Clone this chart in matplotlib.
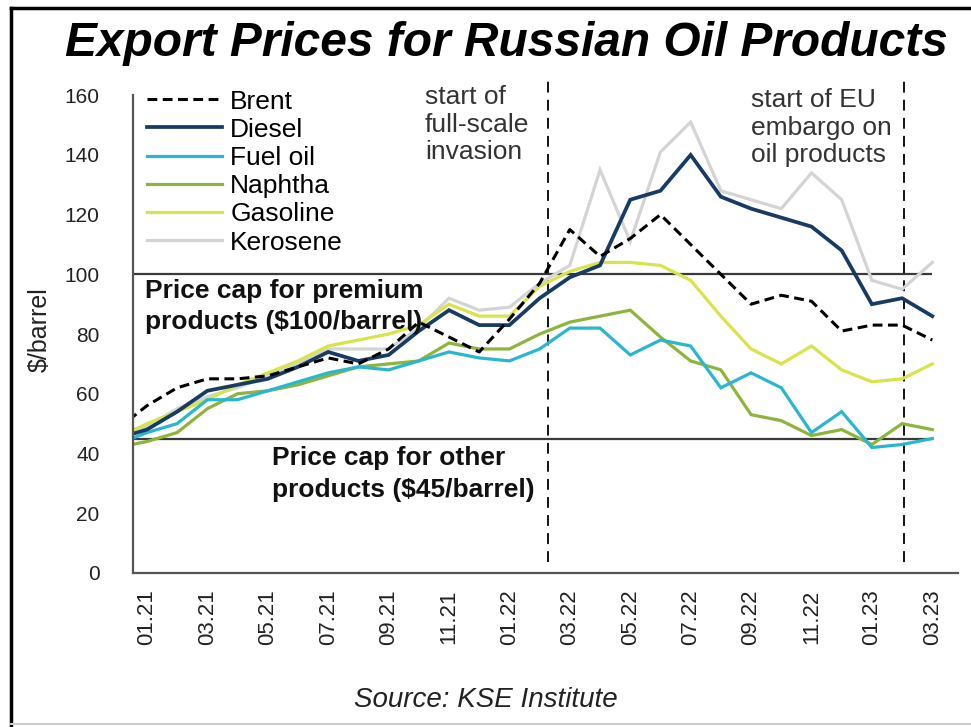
import matplotlib
matplotlib.use("Agg")
import matplotlib.pyplot as plt
from matplotlib.lines import Line2D
import numpy as np

plt.rcParams['font.family'] = ['Liberation Sans', 'DejaVu Sans']

# monthly export prices, $/barrel (first entry = Dec 2020, runs off the axis edge)
months = ['12.20',
          '01.21', '02.21', '03.21', '04.21', '05.21', '06.21', '07.21', '08.21', '09.21',
          '10.21', '11.21', '12.21', '01.22', '02.22', '03.22', '04.22', '05.22', '06.22',
          '07.22', '08.22', '09.22', '10.22', '11.22', '12.22', '01.23', '02.23', '03.23']

brent = [48, 56, 62, 65, 65, 66, 69, 72, 70, 75, 84, 79, 74, 85, 97, 115, 106, 112,
         120, 110, 100, 90, 93, 91, 81, 83, 83, 78]
diesel = [45, 48, 54, 61, 63, 65, 69, 74, 71, 73, 81, 88, 83, 83, 92, 99, 103, 125,
          128, 140, 126, 122, 119, 116, 108, 90, 92, 86]
fuel_oil = [43, 47, 50, 58, 58, 61, 64, 67, 69, 68, 71, 74, 72, 71, 75, 82, 82, 73,
            78, 76, 62, 67, 62, 47, 54, 42, 43, 45]
naphtha = [42, 44, 47, 55, 60, 61, 63, 66, 69, 70, 71, 77, 75, 75, 80, 84, 86, 88,
           79, 71, 68, 53, 51, 46, 48, 43, 50, 48]
gasoline = [45, 50, 54, 58, 63, 67, 71, 76, 78, 80, 83, 90, 86, 86, 96, 101, 104, 104,
            103, 98, 86, 75, 70, 76, 68, 64, 65, 70]
kerosene = [47, 49, 55, 59, 62, 66, 70, 75, 75, 75, 82, 92, 88, 89, 97, 103, 135, 111,
            141, 151, 128, 125, 122, 134, 125, 98, 95, 104]

premium_cap = 100
other_cap = 45
invasion_pos = 14.27   # month index of the "start of full-scale invasion" marker
embargo_pos = 26.05    # month index of the EU embargo marker

x = np.arange(len(months))

fig = plt.figure(figsize=(9.71, 7.27), dpi=100)
ax = fig.add_axes([0.137, 0.212, 0.8496, 0.657])

series = [
    ('Kerosene', kerosene, '#d4d4d4', 2.3),
    ('Gasoline', gasoline, '#d9e34a', 2.3),
    ('Naphtha', naphtha, '#8fb43c', 2.3),
    ('Fuel oil', fuel_oil, '#29b7d0', 2.3),
    ('Diesel', diesel, '#173c63', 2.7),
]
handles = {}
for name, vals, col, lw in series:
    h, = ax.plot(x, vals, color=col, lw=lw, solid_joinstyle='miter')
    handles[name] = h
h, = ax.plot(x, brent, color='black', lw=2.2, dashes=(3.2, 1.8))
handles['Brent'] = h

# price caps
xl = (0.54, 27.85)
ax.hlines([premium_cap, other_cap], xl[0], x[-1], colors='#3a3a3a', lw=1.6, zorder=1)

# event markers
for pos in (invasion_pos, embargo_pos):
    ax.vlines(pos, 3.5, 166, colors='black', lw=1.3, linestyles=(0, (6, 4)),
              clip_on=False, zorder=1)

ax.set_xlim(*xl)
ax.set_ylim(0, 160)
ax.set_yticks(np.arange(0, 161, 20))
ax.set_xticks(x[1::2])
ax.set_xticklabels(months[1::2], rotation=90)
ax.tick_params(axis='both', length=0, labelsize=15, colors='#222222')
ax.tick_params(axis='x', labelsize=16, pad=12)
ax.tick_params(axis='y', pad=24)
for s in ('top', 'right'):
    ax.spines[s].set_visible(False)
for s in ('left', 'bottom'):
    ax.spines[s].set_color('#555555')
    ax.spines[s].set_linewidth(1.6)

order = ['Brent', 'Diesel', 'Fuel oil', 'Naphtha', 'Gasoline', 'Kerosene']
ax.legend([handles[k] for k in order], order, loc='upper left',
          bbox_to_anchor=(0.017, 1.012), frameon=False, fontsize=19,
          handlelength=2.85, handletextpad=0.3, labelspacing=0.16,
          borderpad=0, borderaxespad=0)

ax.text(10.2, 163.5, 'start of\nfull-scale\ninvasion', fontsize=19, va='top',
        ha='left', color='#333333', linespacing=1.2)
ax.text(21.0, 162.5, 'start of EU\nembargo on\noil products', fontsize=19, va='top',
        ha='left', color='#333333', linespacing=1.2)
ax.text(0.93, 98.5, 'Price cap for premium\nproducts ($100/barrel)', fontsize=19,
        fontweight='bold', va='top', ha='left', color='#111111', linespacing=1.4)
ax.text(5.15, 42.5, 'Price cap for other\nproducts ($45/barrel)', fontsize=19,
        fontweight='bold', va='top', ha='left', color='#111111', linespacing=1.4)

fig.text(0.041, 0.546, '$/barrel', rotation=90, fontsize=18, va='center',
         ha='center', color='#222222')
fig.text(0.067, 0.94, 'Export Prices for Russian Oil Products', fontsize=34.5,
         fontweight='bold', style='italic', va='center', ha='left')
fig.text(0.5, 0.037, 'Source: KSE Institute', fontsize=20, style='italic',
         va='center', ha='center', color='#222222')

# outer frame (left and top edges, faint bottom)
fig.add_artist(Line2D([0.011, 0.011], [0, 0.989], transform=fig.transFigure,
                      color='black', lw=2.5))
fig.add_artist(Line2D([0.011, 1.0], [0.989, 0.989], transform=fig.transFigure,
                      color='black', lw=2.5))
fig.add_artist(Line2D([0.011, 1.0], [0.004, 0.004], transform=fig.transFigure,
                      color='#cccccc', lw=1.5))

fig.savefig('out.png', dpi=100)
